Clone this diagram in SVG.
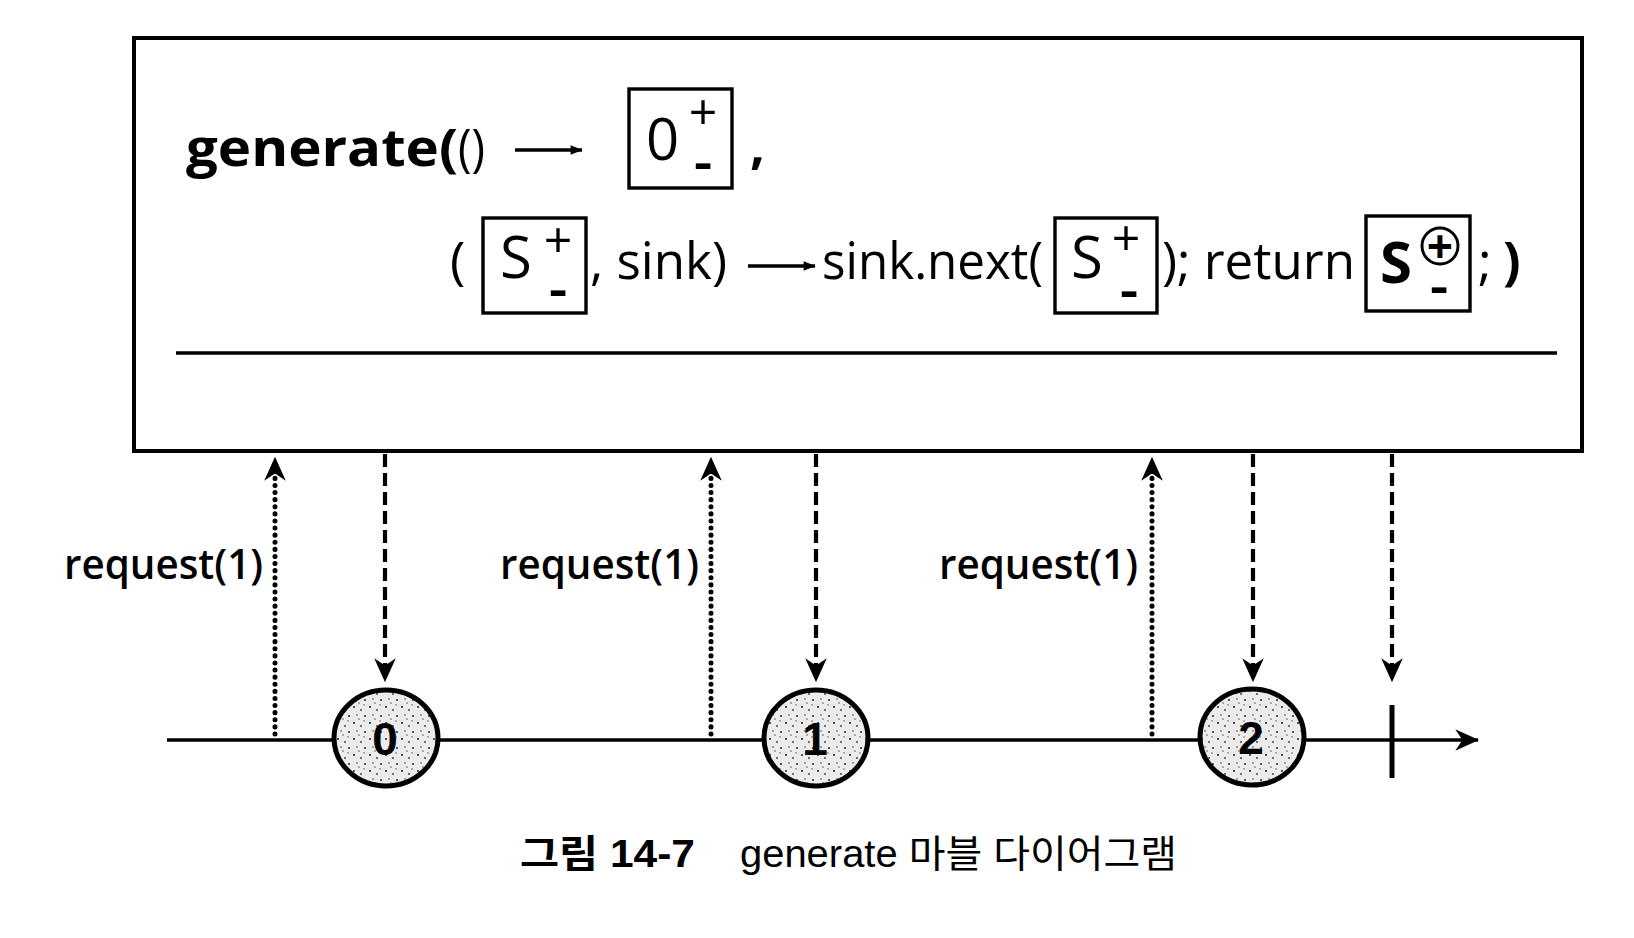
<svg xmlns="http://www.w3.org/2000/svg" width="1634" height="938" viewBox="0 0 1634 938">
<style>
.code{font-family:"Open Sans","DejaVu Sans",sans-serif;font-size:52px;fill:#000}
.b{font-weight:bold}
.sym{font-family:"Open Sans","DejaVu Sans",sans-serif;font-size:50px;text-anchor:middle;fill:#000}
.mn{font-family:"Open Sans","DejaVu Sans",sans-serif;font-size:58px;font-weight:600;text-anchor:middle;fill:#000}
.box{fill:none;stroke:#000;stroke-width:3.4}
.lbl{font-family:"Open Sans","DejaVu Sans",sans-serif;font-size:42px;font-weight:600;fill:#000}
.dig{font-family:"Liberation Sans","DejaVu Sans",sans-serif;font-size:46px;font-weight:bold;text-anchor:middle;fill:#000}
.cap{font-family:"Liberation Sans","Noto Sans CJK KR",sans-serif;font-size:38px;fill:#000}
.dot{stroke:#000;stroke-width:5;stroke-linecap:round;stroke-dasharray:0.1 7;fill:none}
.dash{stroke:#000;stroke-width:4.2;stroke-dasharray:13 6;fill:none}
.ball{fill:url(#stip);stroke:#000;stroke-width:5}
</style>
<defs>
<marker id="ah" viewBox="0 0 20 20" markerUnits="userSpaceOnUse" markerWidth="24" markerHeight="24" refX="19" refY="10" orient="auto">
<path d="M0,1 L20,10 L0,19 L6,10 z" fill="#000"/>
</marker>
<marker id="sm" viewBox="0 0 20 20" markerUnits="userSpaceOnUse" markerWidth="14" markerHeight="12" refX="19" refY="10" orient="auto">
<path d="M0,2 L20,10 L0,18 z" fill="#000"/>
</marker>
<pattern id="stip" width="16" height="16" patternUnits="userSpaceOnUse">
<rect width="16" height="16" fill="#ececec"/>
<circle cx="2" cy="3" r="1" fill="#222"/>
<circle cx="9" cy="6" r="0.9" fill="#333"/>
<circle cx="13" cy="12" r="1" fill="#222"/>
<circle cx="5" cy="11" r="0.8" fill="#444"/>
<circle cx="12" cy="1" r="0.7" fill="#444"/>
<circle cx="7" cy="15" r="0.7" fill="#333"/>
</pattern>
</defs>
<rect width="1634" height="938" fill="#fff"/>

<g id="generator">
<rect x="134" y="38" width="1448" height="413" fill="none" stroke="#000" stroke-width="4"/>
<line x1="176" y1="353" x2="1557" y2="353" stroke="#000" stroke-width="3.4"/>
<text class="code b" x="186" y="166" textLength="272" lengthAdjust="spacingAndGlyphs">generate(</text>
<text class="code" x="458" y="166" textLength="27" lengthAdjust="spacingAndGlyphs">()</text>
<line x1="515" y1="150" x2="582" y2="150" stroke="#000" stroke-width="3.5" marker-end="url(#sm)"/>
<rect class="box" x="629" y="89" width="103" height="99"/>
<text class="code" x="646" y="160" style="font-size:58px">0</text>
<text class="sym" x="703" y="130">+</text>
<text class="mn" x="703" y="182">-</text>

<text class="code b" x="750" y="163">,</text>

<text class="code" x="450" y="279">(</text>
<rect class="box" x="483" y="218" width="103" height="95"/>
<text class="code" x="500" y="278" style="font-size:58px">S</text>
<text class="sym" x="558" y="258">+</text>
<text class="mn" x="558" y="309">-</text>
<text class="code" x="590" y="279" textLength="137" lengthAdjust="spacingAndGlyphs">, sink)</text>
<line x1="748" y1="266" x2="815" y2="266" stroke="#000" stroke-width="3.5" marker-end="url(#sm)"/>
<text class="code" x="822" y="279" textLength="221" lengthAdjust="spacingAndGlyphs">sink.next(</text>
<rect class="box" x="1055" y="218" width="102" height="95"/>
<text class="code" x="1071" y="278" style="font-size:58px">S</text>
<text class="sym" x="1126" y="256">+</text>
<text class="mn" x="1129" y="310">-</text>
<text class="code" x="1162" y="279" textLength="193" lengthAdjust="spacingAndGlyphs">); return</text>
<rect class="box" x="1366" y="216" width="104" height="95"/>
<text class="code b" x="1380" y="283" style="font-size:58px">S</text>
<circle cx="1440" cy="246" r="18" fill="#fff" stroke="#000" stroke-width="3"/>
<text class="sym b" x="1440" y="263" style="font-size:46px">+</text>
<text class="mn" x="1439" y="306">-</text>
<text class="code" x="1478" y="279">;</text>
<text class="code b" x="1503" y="279">)</text>
</g>

<g id="connectors">
<line x1="167" y1="740" x2="1478" y2="740" stroke="#000" stroke-width="3.5" marker-end="url(#ah)"/>
<line class="dot" x1="275" y1="734" x2="275" y2="458" marker-end="url(#ah)"/>
<line class="dot" x1="711" y1="734" x2="711" y2="458" marker-end="url(#ah)"/>
<line class="dot" x1="1152" y1="734" x2="1152" y2="458" marker-end="url(#ah)"/>
<line class="dash" x1="385" y1="454" x2="385" y2="681" marker-end="url(#ah)"/>
<line class="dash" x1="816" y1="454" x2="816" y2="681" marker-end="url(#ah)"/>
<line class="dash" x1="1253" y1="454" x2="1253" y2="681" marker-end="url(#ah)"/>
<line class="dash" x1="1392" y1="454" x2="1392" y2="681" marker-end="url(#ah)"/>
</g>

<g id="labels">
<text class="lbl" x="64" y="579" textLength="199" lengthAdjust="spacingAndGlyphs">request(1)</text>
<text class="lbl" x="500" y="579" textLength="199" lengthAdjust="spacingAndGlyphs">request(1)</text>
<text class="lbl" x="939" y="579" textLength="199" lengthAdjust="spacingAndGlyphs">request(1)</text>
</g>

<g id="ball0">
<ellipse class="ball" cx="386" cy="738" rx="52" ry="48"/>
<text class="dig" x="385" y="755">0</text>
</g>
<g id="ball1">
<ellipse class="ball" cx="816" cy="738" rx="52" ry="48"/>
<text class="dig" x="815" y="755">1</text>
</g>
<g id="ball2">
<ellipse class="ball" cx="1252" cy="737" rx="52" ry="48"/>
<text class="dig" x="1251" y="754">2</text>
</g>
<g id="complete">
<line x1="1392" y1="705" x2="1392" y2="778" stroke="#000" stroke-width="5"/>
</g>

<g id="caption">
<text class="cap b" x="520" y="867" textLength="175" lengthAdjust="spacingAndGlyphs">그림 14-7</text>
<text class="cap" x="740" y="867" textLength="437" lengthAdjust="spacingAndGlyphs">generate 마블 다이어그램</text>
</g>
</svg>
